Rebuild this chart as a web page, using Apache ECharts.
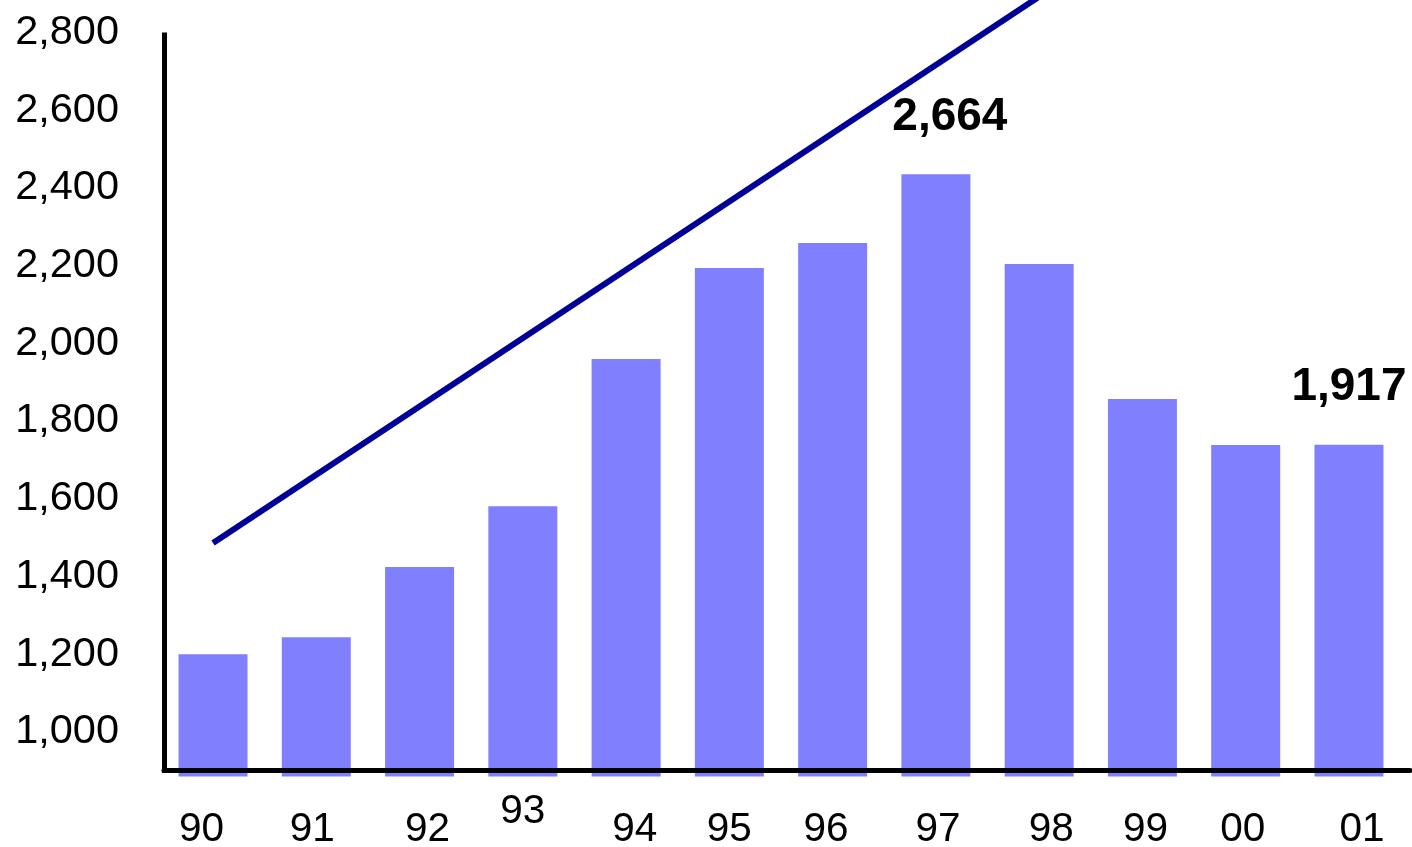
<!DOCTYPE html>
<html><head><meta charset="utf-8">
<script src="https://cdn.jsdelivr.net/npm/echarts@6/dist/echarts.min.js"></script>
<style>html,body{margin:0;padding:0;background:#fff}#c{width:1412px;height:847px}</style>
</head><body><div id="c"></div>
<script>
// ---- data ----
const years = ['90','91','92','93','94','95','96','97','98','99','00','01'];
const values = [1338,1385,1579,1747,2154,2405,2474,2664,2416,2043,1916,1917];
const valueLabels = ['','','','','','','','2,664','','','','1,917'];
const trendStart = ['90', 1645];
const trendEnd = ['98', 3155];
const yTickLabels = {1000:'1,000',1200:'1,200',1400:'1,400',1600:'1,600',1800:'1,800',2000:'2,000',2200:'2,200',2400:'2,400',2600:'2,600',2800:'2,800'};

// ---- styling / layout ----
const FONT = '"Liberation Sans", Arial, Helvetica, sans-serif';
const xNudge = [-11.5,-4,8,0,8.6,0,-6.6,2,12,3,-3,13];
const xRaise = [0,0,0,18,0,0,0,0,0,0,0,0];
const labelOffset = {7:[14,0], 11:[0,0]};

const rich = {};
years.forEach((y,i)=>{
  const d = xNudge[i];
  rich['c'+i] = {
    fontSize:40.5, fontFamily:FONT, color:'#000',
    padding:[18 - xRaise[i], d<0 ? -2*d : 0, 0, d>0 ? 2*d : 0]
  };
});

const barData = values.map((v,i)=>{
  const item = {value:v};
  if (valueLabels[i]) {
    item.label = {show:true, position:'top', distance:34, formatter:valueLabels[i],
      fontSize:46, fontWeight:'bold', color:'#000', fontFamily:FONT, offset:labelOffset[i]||[0,0]};
  }
  return item;
});

const chart = echarts.init(document.getElementById('c'), null, {renderer:'canvas'});
chart.setOption({
  animation:false,
  backgroundColor:'#fff',
  grid:[
    {left:161.4, right:11.4, top:35, bottom:70.5, outerBoundsMode:'none'},
    {left:164, right:2, top:32.5, bottom:37.5, outerBoundsMode:'none'},
    {left:164, right:2, top:35, bottom:76.5, outerBoundsMode:'none'}
  ],
  xAxis:[
    {gridIndex:0, type:'category', data:years, boundaryGap:true,
     axisLine:{show:false}, axisTick:{show:false}, splitLine:{show:false},
     axisLabel:{margin:15, interval:0, fontSize:40.5, color:'#000', fontFamily:FONT,
       formatter:(v,i)=>'{c'+i+'|'+v+'}', rich:rich}},
    {gridIndex:1, type:'value', show:false},
    {gridIndex:2, type:'value', min:0, max:1, z:10,
     axisLine:{show:true, lineStyle:{color:'#000', width:5}},
     axisTick:{show:false}, axisLabel:{show:false}, splitLine:{show:false}}
  ],
  yAxis:[
    {gridIndex:0, type:'value', min:1000, max:3049, show:false},
    {gridIndex:1, type:'value', min:800, max:2800, interval:200,
     axisLine:{show:false}, axisTick:{show:false}, splitLine:{show:false},
     axisLabel:{margin:45, fontSize:41.5, color:'#000', fontFamily:FONT,
       formatter:v=>yTickLabels[v]||''}},
    {gridIndex:2, type:'value', min:0, max:1, z:10,
     axisLine:{show:true, lineStyle:{color:'#000', width:5, cap:'square'}},
     axisTick:{show:false}, axisLabel:{show:false}, splitLine:{show:false}}
  ],
  series:[
    {type:'bar', xAxisIndex:0, yAxisIndex:0, data:barData, barWidth:69,
     itemStyle:{color:'#8080FF'}},
    {type:'line', xAxisIndex:0, yAxisIndex:0, data:[trendStart, trendEnd],
     clip:false, symbol:'none', lineStyle:{color:'#000099', width:6}, z:3}
  ]
});
</script></body></html>
